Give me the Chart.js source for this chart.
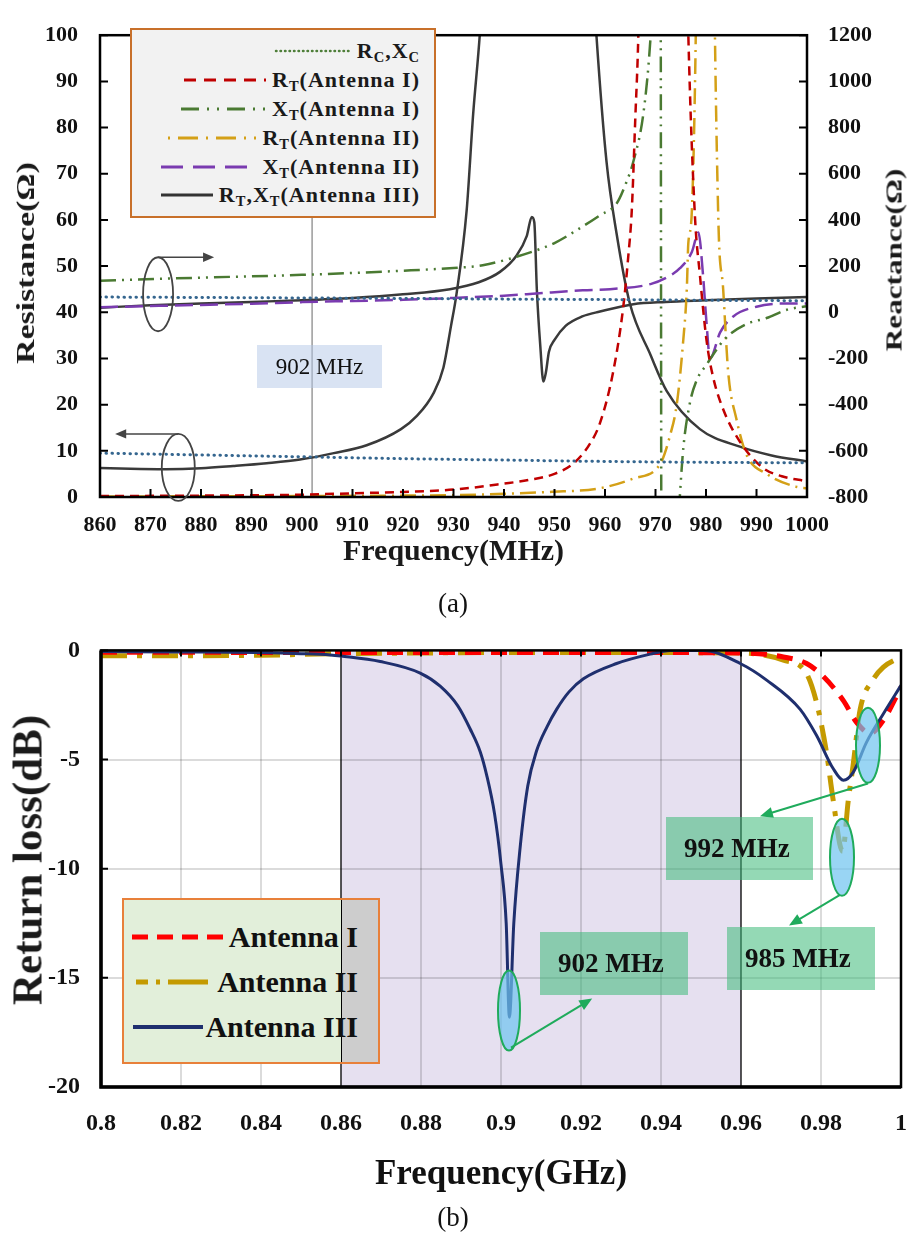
<!DOCTYPE html>
<html lang="en">
<head>
<meta charset="UTF-8">
<title>Antenna impedance and return loss</title>
<script src="https://cdn.jsdelivr.net/npm/chart.js"></script>
<style>
  body { margin: 0; background: #fff; font-family: "Liberation Serif", "Times New Roman", serif; }
  #page { position: relative; width: 909px; height: 1236px; overflow: hidden; }
  .wrap { position: absolute; left: 0; width: 909px; }
  .ov { position: absolute; white-space: nowrap; color: #111; }
  sub { font-size: 0.66em; vertical-align: -0.3em; line-height: 0; }
  .ytitle { position: absolute; font-weight: bold; white-space: nowrap; color: #1a1a1a; }

  #legendA { position: absolute; left: 130px; top: 28px; width: 306px; height: 190px; box-sizing: border-box;
             background: #f2f2f2; border: 2px solid #c8702a; padding: 7px 14px 0 0; }
  #legendA .row { display: flex; justify-content: flex-end; align-items: center; height: 28.8px;
                  font-weight: bold; font-size: 22px; letter-spacing: 1px; color: #1a1a1a; }
  #legendA svg { margin-right: 6px; }

  #legendB { position: absolute; left: 122px; top: 898px; width: 258px; height: 166px; box-sizing: border-box;
             border: 2px solid #e8803a; padding: 14px 20px 0 0;
             background: linear-gradient(to right, #e2efda 0, #e2efda 217px, #000 217px, #000 218px, #cdcdcd 218px); }
  #legendB .row { display: flex; justify-content: flex-end; align-items: center; height: 45px;
                  font-weight: bold; font-size: 30px; color: #111; }
  #legendB svg { margin-right: 2px; }

  .boxB { position: absolute; height: 63px; background: rgba(60, 185, 120, 0.55); font-weight: bold;
          font-size: 27px; line-height: 63px; padding-left: 18px; box-sizing: border-box; color: #111; }
</style>
</head>
<body>
<div id="page">
  <div class="wrap" style="top:0; height:580px;"><canvas id="chartA"></canvas></div>
  <div class="wrap" style="top:615px; height:600px;"><canvas id="chartB"></canvas></div>

  <!-- panel (a) overlays -->
  <div class="ytitle" style="left:26px; top:263px; font-size:26px; transform: translate(-50%, -50%) rotate(-90deg) scaleX(1.3);">Resistance(Ω)</div>
  <div class="ytitle" style="left:894px; top:260px; font-size:24px; transform: translate(-50%, -50%) rotate(-90deg) scaleX(1.3);">Reactance(Ω)</div>
  <div class="ov" style="left:257px; top:345px; width:125px; height:43px; background: rgba(180,199,231,0.5);
       font-size:23px; line-height:43px; text-align:center;">902 MHz</div>

  <div id="legendA">
    <div class="row"><svg width="77" height="10"><line x1="2" y1="5" x2="76" y2="5" stroke="#4f7f3a" stroke-width="2.5" stroke-dasharray="0.5 4" stroke-linecap="round"/></svg><span>R<sub>C</sub>,X<sub>C</sub></span></div>
    <div class="row"><svg width="82" height="10"><line x1="0" y1="5" x2="82" y2="5" stroke="#c00000" stroke-width="3" stroke-dasharray="12 8"/></svg><span>R<sub>T</sub>(Antenna I)</span></div>
    <div class="row"><svg width="85" height="10"><line x1="0" y1="5" x2="85" y2="5" stroke="#4a7a32" stroke-width="3" stroke-dasharray="18 8 2 8 2 8"/></svg><span>X<sub>T</sub>(Antenna I)</span></div>
    <div class="row"><svg width="88" height="10"><line x1="0" y1="5" x2="88" y2="5" stroke="#d4a017" stroke-width="3" stroke-dasharray="2 8 20 8"/></svg><span>R<sub>T</sub>(Antenna II)</span></div>
    <div class="row"><svg width="95" height="10"><line x1="0" y1="5" x2="95" y2="5" stroke="#7a3bb0" stroke-width="3" stroke-dasharray="22 10"/></svg><span>X<sub>T</sub>(Antenna II)</span></div>
    <div class="row"><svg width="52" height="10"><line x1="0" y1="5" x2="52" y2="5" stroke="#333" stroke-width="3"/></svg><span>R<sub>T</sub>,X<sub>T</sub>(Antenna III)</span></div>
  </div>

  <div class="ov" style="left:453px; top:603px; transform: translate(-50%, -50%); font-size:27px;">(a)</div>

  <!-- panel (b) overlays -->
  <div class="ytitle" style="left:27px; top:860px; font-size:43px; transform: translate(-50%, -50%) rotate(-90deg);">Return loss(dB)</div>

  <div id="legendB">
    <div class="row"><svg width="95" height="12"><line x1="0" y1="6" x2="95" y2="6" stroke="#ff0000" stroke-width="5" stroke-dasharray="16 9"/></svg><span>Antenna I</span></div>
    <div class="row"><svg width="79" height="12"><line x1="0" y1="6" x2="79" y2="6" stroke="#c49a00" stroke-width="5" stroke-dasharray="12 8 4 8 40"/></svg><span>Antenna II</span></div>
    <div class="row"><svg width="70" height="12"><line x1="0" y1="6" x2="70" y2="6" stroke="#1f2f6e" stroke-width="4"/></svg><span>Antenna III</span></div>
  </div>

  <div class="boxB" style="left:540px; top:932px; width:148px;">902 MHz</div>
  <div class="boxB" style="left:666px; top:817px; width:147px;">992 MHz</div>
  <div class="boxB" style="left:727px; top:927px; width:148px;">985 MHz</div>

  <div class="ov" style="left:453px; top:1217px; transform: translate(-50%, -50%); font-size:27px;">(b)</div>
</div>

<script>
  // ---------- (a) impedance, frequency in MHz ----------
  const freqC = [860, 880, 900, 920, 940, 960, 980, 1000];
  const resC = [9.5, 9.1, 8.7, 8.3, 8.0, 7.7, 7.5, 7.4];
  const reaC = [66, 64, 62, 60, 57, 55, 52, 50];

  const freqRt1 = [860, 880, 900, 910, 920, 930, 940, 945, 950, 954, 957, 959, 961.6, 963.6, 964.6, 965.3, 966, 966.6, 968, 971.5, 975, 976.5, 977.8, 978.8, 980.1, 981.4, 983.4, 986.7, 991.3, 995, 1000];
  const resT1 = [0.2, 0.3, 0.5, 0.8, 1.1, 1.6, 2.9, 3.7, 5.0, 7.5, 11.5, 16, 27, 41, 52, 62, 82, 100, 180, 400, 180, 100, 61, 48, 34, 26, 19, 12, 6.3, 4.5, 3.4];

  const freqXt1 = [860, 880, 900, 920, 930, 935.8, 945.7, 950, 955.6, 959, 962.3, 964, 965.6, 967.6, 968.9, 969.5, 970.9, 971.3, 973, 974.9, 975.5, 976.8, 978.1, 980.1, 983.8, 988, 992, 996, 1000];
  const reaT1 = [137, 150, 162, 180, 192, 204, 263, 300, 372, 420, 471, 550, 652, 861, 1154, 1400, 3000, -3000, -1500, -771, -590, -394, -297, -227, -114, -51, -25, 11, 26];

  const freqRt2 = [860, 880, 900, 920, 930, 940, 949, 959, 965.6, 970.9, 972.9, 974.2, 975.5, 976.2, 976.5, 977.2, 978.5, 980, 981.3, 982.4, 983.4, 984.4, 986, 988, 992, 997.9, 1000];
  const resT2 = [0.1, 0.15, 0.2, 0.3, 0.4, 0.7, 1.1, 1.9, 4.0, 7.1, 13.4, 20, 34, 45, 55, 62, 150, 400, 150, 62, 45, 27, 17, 9.2, 5, 2.2, 1.9];

  const freqXt2 = [860, 870, 880, 890, 900, 910, 920, 930, 940, 945.7, 955.6, 961, 969, 972.2, 974.9, 977.2, 978.5, 979.4, 980.1, 980.8, 982.8, 985.4, 990, 996, 1000];
  const reaT2 = [22, 27, 32, 37, 44, 49, 54, 62, 72, 80, 95, 100, 122, 150, 192, 261, 345, 164, -46, -199, -87, -18, 24, 38, 38];

  const freqRt3 = [860, 866, 873, 880, 886.4, 893, 899.6, 906.3, 912.8, 919.6, 922.7, 926, 928, 929.5, 930.6, 932.6, 933.9, 935.2, 938, 942, 946.5, 951, 955, 958.3, 960.3, 962.3, 964.9, 969, 972.2, 978.8, 986.7, 993, 1000];
  const resT3 = [6.3, 6.1, 6.0, 6.2, 6.7, 7.3, 8.1, 9.5, 11.2, 14.7, 17.5, 22.4, 28, 37, 44, 62, 83, 100, 150, 260, 320, 260, 160, 100, 72.6, 57, 42, 30.8, 23, 14.7, 10.9, 9.0, 7.7];

  const freqXt3 = [860, 870, 880, 890, 900, 910, 920, 929.3, 935, 939.2, 942.5, 944.5, 945.5, 946.0, 946.5, 947.2, 947.8, 948.3, 948.9, 950, 952.2, 955.5, 959, 965.6, 972, 980, 990, 1000];
  const reaT3 = [20, 30, 38, 45, 52, 62, 78, 100, 130, 175, 246, 330, 413, 390, 100, -150, -300, -260, -171, -120, -59, -18, 3, 35, 45, 52, 60, 66];

  const markerFreq = [902, 902];
  const markerRes = [0, 100];

  // ---------- (b) return loss, frequency in GHz ----------
  const freqAnt1 = [0.8, 0.82, 0.84, 0.86, 0.88, 0.9, 0.92, 0.94, 0.96, 0.9706, 0.9764, 0.9806, 0.9856, 0.9889, 0.9923, 0.9956, 1.0];
  const lossAnt1 = [-0.08, -0.08, -0.1, -0.1, -0.1, -0.1, -0.1, -0.1, -0.12, -0.3, -0.6, -1.2, -2.3, -3.3, -3.8, -3.2, -1.7];

  const freqAnt2 = [0.8, 0.82, 0.84, 0.86, 0.88, 0.9, 0.92, 0.94, 0.96, 0.9706, 0.9764, 0.9789, 0.9814, 0.983, 0.9854, 0.9868, 0.988, 0.9898, 0.993, 0.9956, 1.0];
  const lossAnt2 = [-0.25, -0.25, -0.22, -0.15, -0.12, -0.1, -0.1, -0.1, -0.12, -0.45, -1.07, -2.4, -4.7, -6.8, -9.2, -6.9, -5.3, -2.7, -1.35, -0.77, -0.3];

  const freqAnt3 = [0.8, 0.82, 0.84, 0.85, 0.8573, 0.86, 0.8698, 0.8798, 0.8848, 0.8892, 0.8923, 0.8948, 0.8964, 0.8984, 0.9, 0.9013, 0.9021, 0.9032, 0.9048, 0.9067, 0.9089, 0.9115, 0.9139, 0.917, 0.9206, 0.9289, 0.9373, 0.9423, 0.9506, 0.9598, 0.9664, 0.9748, 0.9789, 0.983, 0.9856, 0.988, 0.9914, 0.9956, 1.0];
  const lossAnt3 = [-0.05, -0.07, -0.1, -0.15, -0.21, -0.26, -0.51, -1.04, -1.64, -2.54, -3.6, -4.64, -5.7, -7.5, -9.8, -12.5, -16.8, -12.5, -9.0, -6.2, -4.6, -3.5, -2.7, -1.9, -1.3, -0.6, -0.17, 0, 0, -0.6, -1.36, -2.7, -3.9, -5.4, -5.95, -5.6, -4.2, -2.9, -1.6];

  const pts = (xs, ys) => xs.map((x, i) => ({ x: x, y: ys[i] }));

  function arrow(ctx, x1, y1, x2, y2, color, lw, head) {
    const ang = Math.atan2(y2 - y1, x2 - x1);
    ctx.strokeStyle = color;
    ctx.fillStyle = color;
    ctx.lineWidth = lw;
    ctx.beginPath();
    ctx.moveTo(x1, y1);
    ctx.lineTo(x2 - Math.cos(ang) * head * 0.8, y2 - Math.sin(ang) * head * 0.8);
    ctx.stroke();
    ctx.beginPath();
    ctx.moveTo(x2, y2);
    ctx.lineTo(x2 - head * Math.cos(ang - 0.4), y2 - head * Math.sin(ang - 0.4));
    ctx.lineTo(x2 - head * Math.cos(ang + 0.4), y2 - head * Math.sin(ang + 0.4));
    ctx.closePath();
    ctx.fill();
  }

  const serif = '"Liberation Serif", "Times New Roman", serif';
  // invisible tick marks only reserve room under the x axis (tick padding would also widen the right gutter)
  const hiddenTicks = len => ({ display: true, drawOnChartArea: false, drawTicks: true, tickLength: len, tickColor: 'rgba(0,0,0,0)', color: 'rgba(0,0,0,0)' });

  // frame, inward ticks and the ellipse/arrow markers of panel (a)
  const decorA = {
    id: 'decorA',
    afterDatasetsDraw(chart) {
      const { ctx, chartArea: a, scales } = chart;
      const x = scales.x, yR = scales.yR, yX = scales.yX;
      ctx.save();
      ctx.strokeStyle = '#000';
      ctx.lineWidth = 2;
      ctx.beginPath();
      x.ticks.forEach(t => { const p = x.getPixelForValue(t.value); ctx.moveTo(p, a.bottom); ctx.lineTo(p, a.bottom - 8); });
      yR.ticks.forEach(t => { const p = yR.getPixelForValue(t.value); ctx.moveTo(a.left, p); ctx.lineTo(a.left + 8, p); });
      yX.ticks.forEach(t => { const p = yX.getPixelForValue(t.value); ctx.moveTo(a.right, p); ctx.lineTo(a.right - 8, p); });
      ctx.stroke();
      ctx.lineWidth = 2.5;
      ctx.strokeRect(a.left, a.top, a.right - a.left, a.bottom - a.top);

      // reactance marker: ellipse with arrow to the right
      ctx.strokeStyle = '#444';
      ctx.lineWidth = 1.8;
      let cx = x.getPixelForValue(871.5), cy = yR.getPixelForValue(43.9);
      ctx.beginPath(); ctx.ellipse(cx, cy, 15, 37, 0, 0, Math.PI * 2); ctx.stroke();
      arrow(ctx, cx, cy - 37, x.getPixelForValue(882.6), cy - 37, '#444', 1.6, 12);
      // resistance marker: ellipse with arrow to the left
      cx = x.getPixelForValue(875.5); cy = yR.getPixelForValue(6.4);
      ctx.strokeStyle = '#444';
      ctx.lineWidth = 1.8;
      ctx.beginPath(); ctx.ellipse(cx, cy, 16.5, 33.5, 0, 0, Math.PI * 2); ctx.stroke();
      arrow(ctx, cx, cy - 33.5, x.getPixelForValue(863), cy - 33.5, '#444', 1.6, 12);
      ctx.restore();
    }
  };

  new Chart(document.getElementById('chartA'), {
    type: 'line',
    data: {
      datasets: [
        { data: pts(freqC, resC), yAxisID: 'yR', borderColor: '#35668f', borderWidth: 3, borderDash: [0.5, 5.5], borderCapStyle: 'round' },
        { data: pts(freqC, reaC), yAxisID: 'yX', borderColor: '#35668f', borderWidth: 3, borderDash: [0.5, 5.5], borderCapStyle: 'round' },
        { data: pts(freqRt1, resT1), yAxisID: 'yR', borderColor: '#c00000', borderWidth: 2.5, borderDash: [9, 6] },
        { data: pts(freqXt1, reaT1), yAxisID: 'yX', borderColor: '#4a7a32', borderWidth: 2.5, borderDash: [16, 6, 2, 6, 2, 6] },
        { data: pts(freqRt2, resT2), yAxisID: 'yR', borderColor: '#d4a017', borderWidth: 2.5, borderDash: [16, 6, 2, 6] },
        { data: pts(freqXt2, reaT2), yAxisID: 'yX', borderColor: '#7a3bb0', borderWidth: 2.5, borderDash: [18, 7] },
        { data: pts(freqRt3, resT3), yAxisID: 'yR', borderColor: '#3a3a3a', borderWidth: 2.5 },
        { data: pts(freqXt3, reaT3), yAxisID: 'yX', borderColor: '#3a3a3a', borderWidth: 2.5 },
        { data: pts(markerFreq, markerRes), yAxisID: 'yR', borderColor: '#9a9a9a', borderWidth: 1.5, cubicInterpolationMode: 'default' }
      ]
    },
    options: {
      responsive: true,
      maintainAspectRatio: false,
      animation: false,
      layout: { padding: { top: 19, left: 0, right: 0, bottom: 0 } },
      elements: { point: { radius: 0 }, line: { cubicInterpolationMode: 'monotone', fill: false } },
      plugins: { legend: { display: false }, tooltip: { enabled: false } },
      scales: {
        x: {
          type: 'linear', min: 860, max: 1000,
          grid: hiddenTicks(15),
          border: { display: false },
          ticks: { stepSize: 10, padding: 0, autoSkip: false, maxRotation: 0, minRotation: 0, color: '#111',
                   font: { family: serif, size: 22, weight: 'bold' }, callback: v => String(v) },
          title: { display: true, text: 'Frequency(MHz)', color: '#1a1a1a', padding: { top: 0, bottom: 10 }, font: { family: serif, size: 30, weight: 'bold' } },
          afterFit(s) { s.height = 83; }
        },
        yR: {
          type: 'linear', position: 'left', min: 0, max: 100,
          grid: { display: false, drawTicks: false },
          border: { display: false },
          ticks: { stepSize: 10, padding: 22, color: '#111', font: { family: serif, size: 22, weight: 'bold' } },
          afterFit(s) { s.width = 100; }
        },
        yX: {
          type: 'linear', position: 'right', min: -800, max: 1200,
          grid: { display: false, drawTicks: false },
          border: { display: false },
          ticks: { stepSize: 200, padding: 21, color: '#111', font: { family: serif, size: 22, weight: 'bold' }, callback: v => String(v) },
          afterFit(s) { s.width = 102; }
        }
      }
    },
    plugins: [decorA]
  });

  // shaded band, frame and the green callouts of panel (b)
  const decorB = {
    id: 'decorB',
    beforeDraw(chart) {
      const { ctx, chartArea: a, scales } = chart;
      const x1 = scales.x.getPixelForValue(0.86), x2 = scales.x.getPixelForValue(0.96);
      ctx.save();
      ctx.fillStyle = '#e6e0f0';
      ctx.fillRect(x1, a.top, x2 - x1, a.bottom - a.top);
      ctx.restore();
    },
    beforeDatasetsDraw(chart) {
      const { ctx, chartArea: a, scales } = chart;
      ctx.save();
      ctx.strokeStyle = '#000';
      ctx.lineWidth = 1.2;
      ctx.beginPath();
      [0.86, 0.96].forEach(v => { const p = scales.x.getPixelForValue(v); ctx.moveTo(p, a.top); ctx.lineTo(p, a.bottom); });
      ctx.stroke();
      ctx.restore();
    },
    afterDatasetsDraw(chart) {
      const { ctx, chartArea: a, scales } = chart;
      const x = scales.x, y = scales.y;
      ctx.save();
      ctx.strokeStyle = '#000';
      ctx.lineWidth = 2;
      ctx.beginPath();
      x.ticks.forEach(t => { const p = x.getPixelForValue(t.value); ctx.moveTo(p, a.top); ctx.lineTo(p, a.top + 6); });
      y.ticks.forEach(t => { const p = y.getPixelForValue(t.value); ctx.moveTo(a.left, p); ctx.lineTo(a.left + 7, p); });
      ctx.stroke();
      ctx.lineWidth = 2.5;
      ctx.strokeRect(a.left, a.top, a.right - a.left, a.bottom - a.top);
      ctx.lineWidth = 3.5;
      ctx.beginPath();
      ctx.moveTo(a.left, a.top); ctx.lineTo(a.left, a.bottom); ctx.lineTo(a.right, a.bottom);
      ctx.stroke();

      const green = '#1fab5c';
      const blob = (fx, db, rx, ry) => {
        const cx = x.getPixelForValue(fx), cy = y.getPixelForValue(db);
        ctx.beginPath();
        ctx.ellipse(cx, cy, rx, ry, 0, 0, Math.PI * 2);
        ctx.fillStyle = 'rgba(110, 195, 240, 0.7)';
        ctx.fill();
        ctx.strokeStyle = green;
        ctx.lineWidth = 2;
        ctx.stroke();
      };
      const pointer = (f1, d1, f2, d2) => arrow(ctx, x.getPixelForValue(f1), y.getPixelForValue(d1),
        x.getPixelForValue(f2), y.getPixelForValue(d2), green, 2, 14);

      blob(0.902, -16.5, 11, 40);
      pointer(0.9025, -18.2, 0.9228, -15.95);
      blob(0.99175, -4.35, 12, 37.5);
      pointer(0.99175, -6.1, 0.96475, -7.6);
      blob(0.98525, -9.48, 12, 38.5);
      pointer(0.98475, -11.2, 0.972, -12.6);
      ctx.restore();
    }
  };

  new Chart(document.getElementById('chartB'), {
    type: 'line',
    data: {
      datasets: [
        { data: pts(freqAnt3, lossAnt3), borderColor: '#1f2f6e', borderWidth: 3 },
        { data: pts(freqAnt1, lossAnt1), borderColor: '#ff0000', borderWidth: 5, borderDash: [16, 10] },
        { data: pts(freqAnt2, lossAnt2), borderColor: '#c49a00', borderWidth: 5, borderDash: [26, 10, 5, 10] }
      ]
    },
    options: {
      responsive: true,
      maintainAspectRatio: false,
      animation: false,
      layout: { padding: { top: 27, left: 0, right: 8, bottom: 0 } },
      elements: { point: { radius: 0 }, line: { cubicInterpolationMode: 'monotone', fill: false } },
      plugins: { legend: { display: false }, tooltip: { enabled: false } },
      scales: {
        x: {
          type: 'linear', min: 0.8, max: 1,
          grid: { color: 'rgba(0,0,0,0.14)', lineWidth: 2, drawTicks: true, tickLength: 22, tickColor: 'rgba(0,0,0,0)' },
          border: { display: false },
          ticks: {
            stepSize: 0.02, padding: 0, autoSkip: false, maxRotation: 0, minRotation: 0, color: '#111',
            font: { family: serif, size: 24, weight: 'bold' },
            callback: v => String(parseFloat(v.toFixed(2)))
          },
          title: { display: true, text: 'Frequency(GHz)', color: '#111', padding: { top: 0, bottom: 19 }, font: { family: serif, size: 35, weight: 'bold' } },
          afterFit(s) { s.height = 128; }
        },
        y: {
          type: 'linear', min: -20, max: 0,
          grid: { color: 'rgba(0,0,0,0.14)', lineWidth: 2, drawTicks: false },
          border: { display: false },
          ticks: { stepSize: 5, padding: 21, color: '#111', font: { family: serif, size: 24, weight: 'bold' } },
          afterFit(s) { s.width = 101; }
        }
      }
    },
    plugins: [decorB]
  });
</script>
</body>
</html>
